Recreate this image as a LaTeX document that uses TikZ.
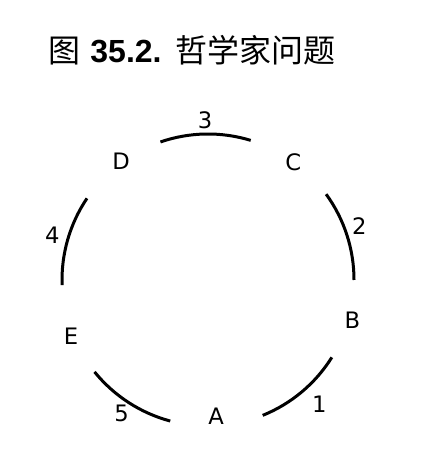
\documentclass[tikz,border=0pt]{standalone}
\usepackage{fontspec}
\setmainfont{DejaVu Sans}
\newfontfamily\cjk{Noto Sans CJK SC}
\newfontfamily\arialb{Liberation Sans}
\begin{document}
\begin{tikzpicture}[x=0.75pt,y=0.75pt,
  fork/.style={line width=2.25pt},
  lbl/.style={inner sep=0pt,font=\fontsize{17}{20}\selectfont}]
\useasboundingbox (0,0) rectangle (426,466);
\coordinate (c) at (208,186);
\node[anchor=base west,inner sep=0pt,font=\fontsize{24}{28}\selectfont] (title) at (48,403.5)
  {{\cjk 图} {\arialb\bfseries 35.2.} {\cjk 哲学家问题}};
% forks
\draw[fork] (c) ++(73:109.5pt) arc[start angle=73,end angle=109,radius=109.5pt];
\draw[fork] (c) ++(0:109.5pt) arc[start angle=0,end angle=36,radius=109.5pt];
\draw[fork] (c) ++(-68:109.5pt) arc[start angle=-68,end angle=-32,radius=109.5pt];
\draw[fork] (c) ++(-141:109.5pt) arc[start angle=-141,end angle=-105,radius=109.5pt];
\draw[fork] (c) ++(146:109.5pt) arc[start angle=146,end angle=182,radius=109.5pt];
% philosophers
\node[lbl] (D) at (121,304.3) {D};
\node[lbl] (C) at (293.3,303.3) {C};
\node[lbl] (B) at (352.3,146) {B};
\node[lbl] (E) at (71,129.3) {E};
\node[lbl] (A) at (216,49.3) {A};
% fork numbers
\node[lbl] (n3) at (205,346) {3};
\node[lbl] (n2) at (359.3,240) {2};
\node[lbl] (n1) at (319.3,62) {1};
\node[lbl] (n5) at (121.7,52.7) {5};
\node[lbl] (n4) at (52.3,231) {4};
\end{tikzpicture}
\end{document}
